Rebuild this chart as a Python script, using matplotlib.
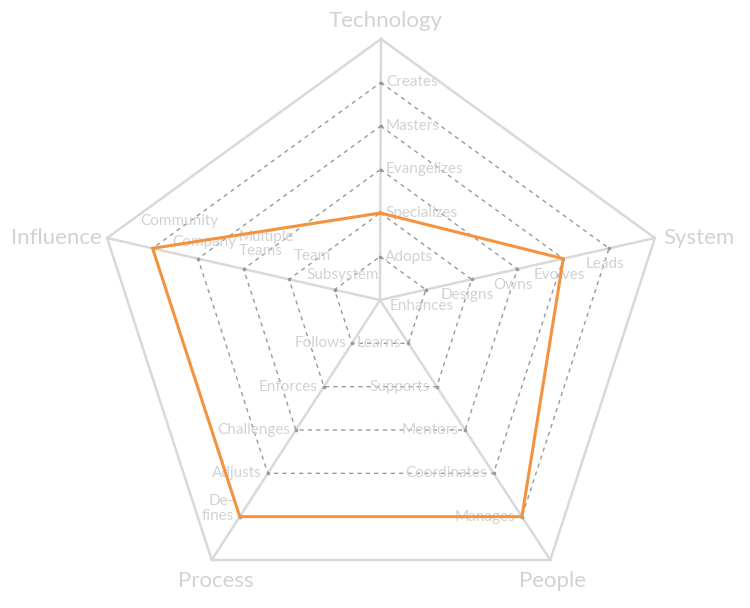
import numpy as np
import matplotlib
matplotlib.use('Agg')
import matplotlib.pyplot as plt

# axes of the radar, clockwise from the top
dimensions = ['Technology', 'System', 'People', 'Process', 'Influence']

# level names on every axis, inner ring to outer ring
levels = [
    ['Adopts', 'Specializes', 'Evangelizes', 'Masters', 'Creates'],
    ['Enhances', 'Designs', 'Owns', 'Evolves', 'Leads'],
    ['Learns', 'Supports', 'Mentors', 'Coordinates', 'Manages'],
    ['Follows', 'Enforces', 'Challenges', 'Adjusts', 'De-\nfines'],
    ['Subsystem', 'Team', 'Multiple\nTeams', 'Company', 'Community'],
]

# selected level on each axis (1 = inner ring)
scores = [2, 4, 5, 5, 5]
max_level = 6

# layout, in pixels of the 750x608 picture
W, H = 750, 608
center = np.array([381.0, 327.0])
radius = 288.0
hub = np.array([380.0, 300.0])

TEXT = '#d2d2d2'
GRID = '#d9d9d9'
DASH = '#9a9a9a'
ORANGE = '#f5923e'
FONT = 'Lato'

plt.rcParams['font.family'] = [FONT, 'DejaVu Sans']

fig = plt.figure(figsize=(W / 100, H / 100), dpi=100)
ax = fig.add_axes([0, 0, 1, 1])
ax.set_xlim(0, W)
ax.set_ylim(H, 0)
ax.axis('off')

n = len(dimensions)
angles = np.deg2rad(-90 + 360.0 / n * np.arange(n))
vertices = center + radius * np.column_stack([np.cos(angles), np.sin(angles)])


def point(i, level):
    return hub + level / max_level * (vertices[i] - hub)


# outer frame and spokes
outer = np.vstack([vertices, vertices[:1]])
ax.plot(outer[:, 0], outer[:, 1], color=GRID, lw=1.8, zorder=1)
for i in range(n):
    ax.plot([hub[0], vertices[i][0]], [hub[1], vertices[i][1]], color=GRID, lw=1.8, zorder=1)

# dashed rings
for lv in range(1, max_level):
    ring = np.array([point(i, lv) for i in range(n)] + [point(0, lv)])
    ax.plot(ring[:, 0], ring[:, 1], color=DASH, lw=1.0, ls=(0, (3, 3)), zorder=2)
    ax.plot(ring[:-1, 0], ring[:-1, 1], 'o', color=DASH, ms=1.6, zorder=2)

# level labels
offsets = [(5, 0, 'left'), (-4, 16, 'center'), (-7, 0, 'right'), (-6, 0, 'right'), (15, -20, 'center')]
nudge = {'Subsystem': (-7, 5), 'Team': (8, -3), 'Multiple\nTeams': (5, -5),
         'Company': (-9, 3), 'Community': (12, -7), 'De-\nfines': (0, -8)}
for i in range(n):
    dx, dy, ha = offsets[i]
    for lv, name in enumerate(levels[i], start=1):
        x, y = point(i, lv)
        ex, ey = nudge.get(name, (0, 0))
        al = ha
        if name == 'Multiple\nTeams':
            al = 'left'
            ex -= 25
        ax.text(x + dx + ex, y + dy + ey, name, color=TEXT, fontsize=11, ha=al,
                va='center', linespacing=1.05, zorder=3)

# axis titles
title_pos = [(5, -18, 'center'), (8, 0, 'left'), (2, 21, 'center'), (4, 21, 'center'), (-5, 0, 'right')]
for i, name in enumerate(dimensions):
    dx, dy, ha = title_pos[i]
    ax.text(vertices[i][0] + dx, vertices[i][1] + dy, name, color=TEXT, fontsize=16,
            ha=ha, va='center', zorder=3)

# selected profile
prof = np.array([point(i, s) for i, s in enumerate(scores)] + [point(0, scores[0])])
ax.plot(prof[:, 0], prof[:, 1], color=ORANGE, lw=2.2, zorder=4, solid_joinstyle='miter')

fig.savefig('out.png', dpi=100)
